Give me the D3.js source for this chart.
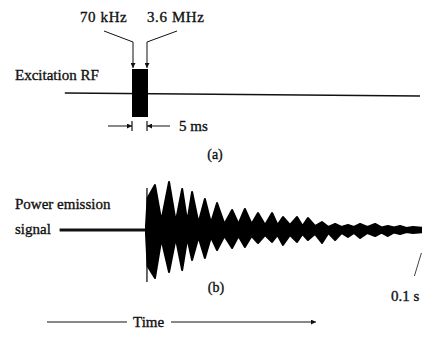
<!DOCTYPE html>
<html>
<head>
<meta charset="utf-8">
<script src="https://cdn.jsdelivr.net/npm/d3@7"></script>
<style>
  body { margin: 0; background: #fff; }
  svg text { font-family: "Liberation Serif", "Times New Roman", serif; fill: #111; stroke: #111; stroke-width: 0.35px; }
</style>
</head>
<body>
<div id="chart"></div>
<script>
// (a) excitation pulse, ms
const pulseStart = 0;
const pulseEnd = 5;
const rfLineSpan = [-21, 90];
const pulseLabels = ["70 kHz", "3.6 MHz"];

// (b) emission envelope: [time ms, upper amplitude, lower amplitude]
const preSignalStart = -27;
const envelope = [
  [0.0, 4, 4], [0.5, 32, 36], [2.8, 45, 48], [4.8, 9, 9],
  [7.2, 48, 42], [9.3, 8, 8], [11.3, 41, 40], [12.9, 8, 8],
  [14.4, 38, 30], [16.4, 7, 7], [18.4, 31, 28], [20.3, 7, 7],
  [22.2, 27, 20], [24.5, 6, 6], [26.9, 20, 18], [28.9, 6, 6],
  [30.9, 21, 17], [33.0, 6, 6], [35.0, 17, 13], [37.2, 5, 5],
  [39.4, 17, 12], [41.1, 5, 5], [42.8, 13, 15], [45.0, 5, 5],
  [47.2, 13, 12], [48.9, 4, 4], [50.6, 12, 10], [52.8, 4, 4],
  [55.0, 8, 13], [57.0, 3, 3], [59.1, 6, 10], [61.1, 3, 3],
  [63.1, 5, 7], [65.0, 3, 3], [66.9, 6, 8], [69.2, 3, 3],
  [71.6, 6, 6], [73.6, 2.5, 2.5], [75.6, 4, 6], [77.5, 2.5, 2.5],
  [79.4, 4, 4], [81.4, 2, 2], [83.4, 3, 3], [87, 2, 2]
];
// first sharp spike at burst onset
const spike = [0.3, 42, 52];
const endMarkTime = 84.5;

const W = 422, H = 349;
const svg = d3.select("#chart").append("svg")
  .attr("width", W).attr("height", H);

const defs = svg.append("defs");
defs.append("marker")
  .attr("id", "head")
  .attr("viewBox", "0 0 10 10")
  .attr("refX", 10).attr("refY", 5)
  .attr("markerWidth", 7).attr("markerHeight", 5)
  .attr("markerUnits", "userSpaceOnUse")
  .attr("orient", "auto")
  .append("path").attr("d", "M0,0L10,5L0,10Z").attr("fill", "#111");

// ---------- panel (a) ----------
const xA = d3.scaleLinear().domain([pulseStart, pulseEnd]).range([132, 148]);
const yA = d3.scaleLinear().domain([-1, 1]).range([117, 69]);

svg.append("line")
  .attr("x1", xA(rfLineSpan[0])).attr("x2", xA(rfLineSpan[1]))
  .attr("y1", yA(0)).attr("y2", yA(0) + 3)
  .attr("stroke", "#111").attr("stroke-width", 1.4);

svg.append("rect")
  .attr("x", xA(pulseStart)).attr("y", yA(1))
  .attr("width", xA(pulseEnd) - xA(pulseStart))
  .attr("height", yA(-1) - yA(1))
  .attr("fill", "#000");

svg.append("text").attr("x", 15).attr("y", 80)
  .attr("font-size", 15).text("Excitation RF");

// frequency labels with bent arrows
svg.append("text").attr("x", 80).attr("y", 22)
  .attr("font-size", 15).attr("letter-spacing", 0.6).text(pulseLabels[0]);
svg.append("text").attr("x", 147).attr("y", 22)
  .attr("font-size", 15).attr("letter-spacing", 0.6).text(pulseLabels[1]);

const bend = d3.line();
svg.append("path")
  .attr("d", bend([[104, 31], [xA(pulseStart) + 1, 42], [xA(pulseStart) + 1, yA(1) - 1]]))
  .attr("fill", "none").attr("stroke", "#111").attr("stroke-width", 1)
  .attr("marker-end", "url(#head)");
svg.append("path")
  .attr("d", bend([[177, 31], [xA(pulseEnd) - 1, 42], [xA(pulseEnd) - 1, yA(1) - 1]]))
  .attr("fill", "none").attr("stroke", "#111").attr("stroke-width", 1)
  .attr("marker-end", "url(#head)");

// 5 ms dimension
const dimY = 126;
svg.append("line").attr("x1", xA(pulseStart) - 24).attr("x2", xA(pulseStart))
  .attr("y1", dimY).attr("y2", dimY)
  .attr("stroke", "#111").attr("stroke-width", 1).attr("marker-end", "url(#head)");
svg.append("line").attr("x1", xA(pulseEnd) + 22).attr("x2", xA(pulseEnd) - 1)
  .attr("y1", dimY).attr("y2", dimY)
  .attr("stroke", "#111").attr("stroke-width", 1).attr("marker-end", "url(#head)");
[xA(pulseStart), xA(pulseEnd) - 1].forEach(x => {
  svg.append("line").attr("x1", x).attr("x2", x)
    .attr("y1", dimY - 5).attr("y2", dimY + 5)
    .attr("stroke", "#111").attr("stroke-width", 1.2);
});
svg.append("text").attr("x", 179).attr("y", 131)
  .attr("font-size", 15).text("5 ms");
svg.append("text").attr("x", 215).attr("y", 159)
  .attr("font-size", 14).attr("text-anchor", "middle").text("(a)");

// ---------- panel (b) ----------
const xB = d3.scaleLinear().domain([0, 10]).range([146, 178]);
const yB = d3.scaleLinear().domain([-10, 10]).range([240, 220]);

svg.append("line")
  .attr("x1", xB(preSignalStart)).attr("x2", xB(0))
  .attr("y1", yB(0)).attr("y2", yB(0))
  .attr("stroke", "#111").attr("stroke-width", 2.8);

const area = d3.area()
  .x(d => xB(d[0]))
  .y0(d => yB(-d[2]))
  .y1(d => yB(d[1]))
  .curve(d3.curveLinear);

svg.append("path").datum(envelope)
  .attr("d", area)
  .attr("fill", "#000")
  .attr("stroke", "#000").attr("stroke-width", 2).attr("stroke-linejoin", "round");

svg.append("line")
  .attr("x1", xB(spike[0])).attr("x2", xB(spike[0]))
  .attr("y1", yB(spike[1])).attr("y2", yB(-spike[2]))
  .attr("stroke", "#000").attr("stroke-width", 1.2);

svg.append("text").attr("x", 15).attr("y", 209)
  .attr("font-size", 15).text("Power emission");
svg.append("text").attr("x", 15).attr("y", 234)
  .attr("font-size", 15).text("signal");

// 0.1 s marker
svg.append("line")
  .attr("x1", xB(endMarkTime) + 5).attr("y1", yB(-23))
  .attr("x2", xB(endMarkTime) - 2).attr("y2", yB(-46))
  .attr("stroke", "#111").attr("stroke-width", 0.8);
svg.append("text").attr("x", 391).attr("y", 301)
  .attr("font-size", 15).text("0.1 s");

svg.append("text").attr("x", 216).attr("y", 292)
  .attr("font-size", 14).attr("text-anchor", "middle").text("(b)");

// Time arrow
const timeY = 322;
svg.append("line").attr("x1", 47).attr("x2", 127)
  .attr("y1", timeY).attr("y2", timeY)
  .attr("stroke", "#111").attr("stroke-width", 1);
svg.append("text").attr("x", 133).attr("y", 327)
  .attr("font-size", 15).text("Time");
svg.append("line").attr("x1", 171).attr("x2", 316)
  .attr("y1", timeY).attr("y2", timeY)
  .attr("stroke", "#111").attr("stroke-width", 1).attr("marker-end", "url(#head)");
</script>
</body>
</html>
